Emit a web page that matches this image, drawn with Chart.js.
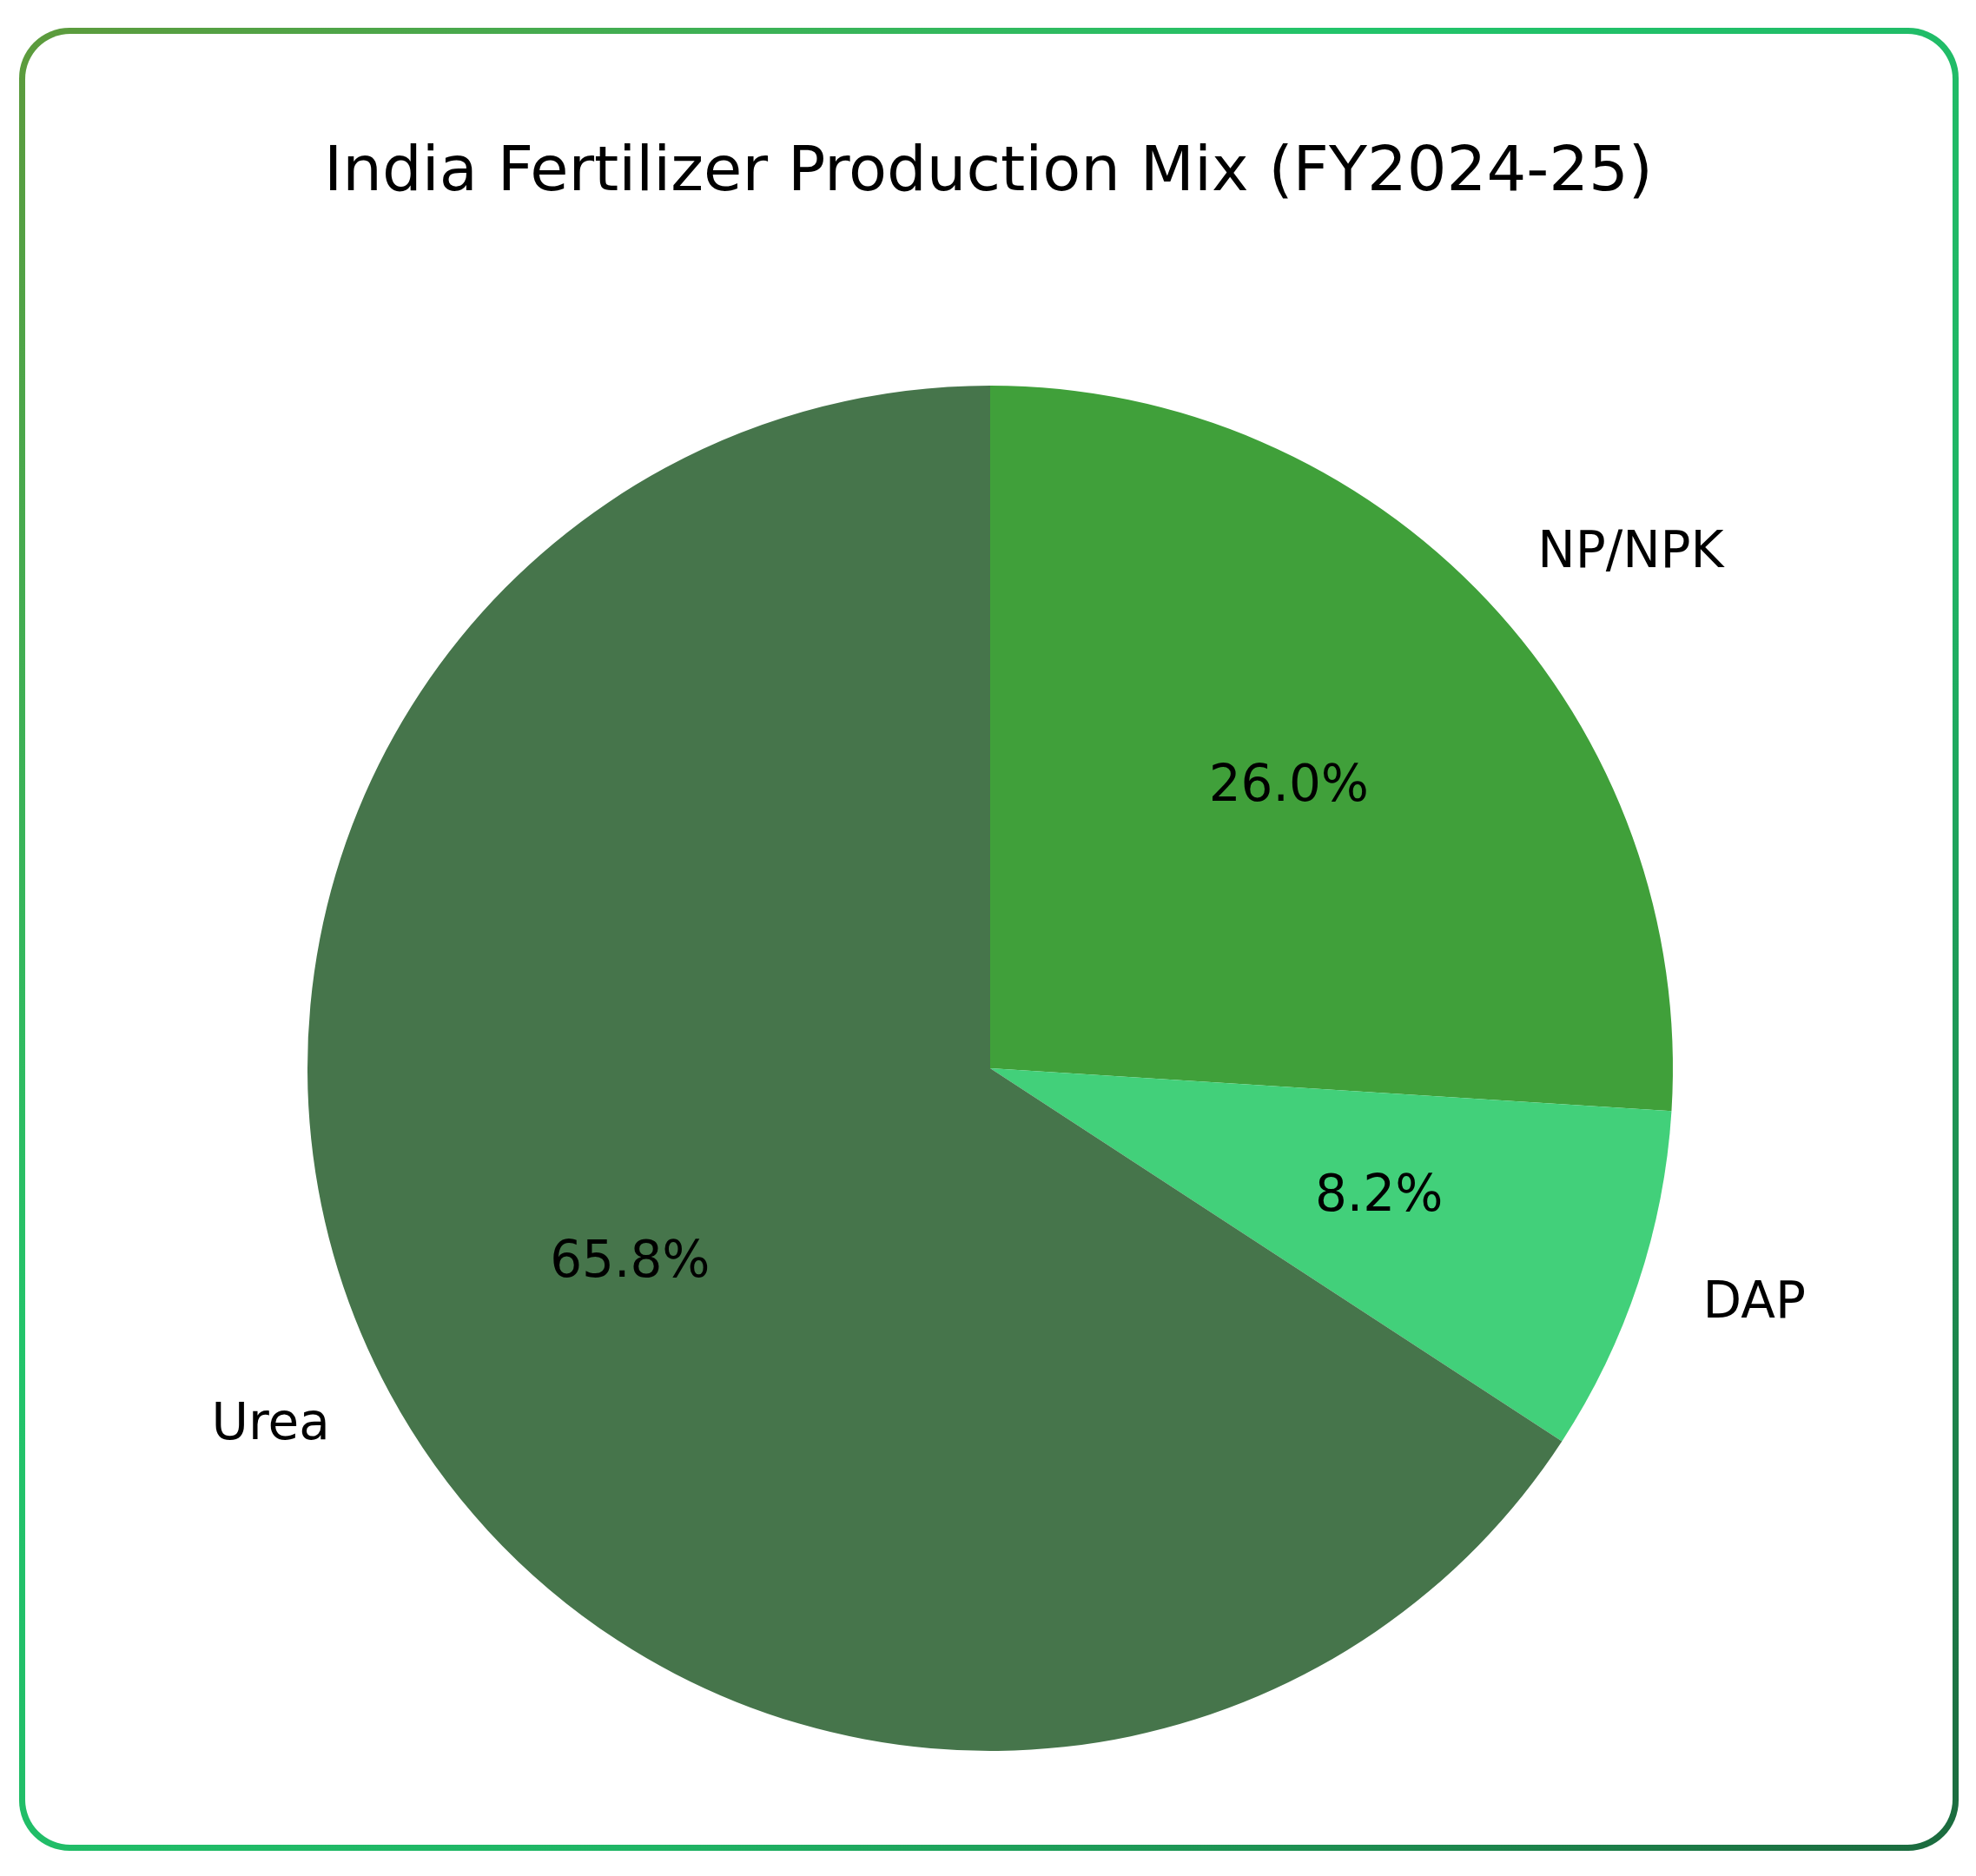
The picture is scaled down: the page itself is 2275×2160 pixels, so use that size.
<!DOCTYPE html>
<html><head><meta charset="utf-8">
<script src="https://cdn.jsdelivr.net/npm/chart.js@4"></script>
<style>
html,body{margin:0;padding:0;background:#fff;width:2275px;height:2160px;overflow:hidden}
#frame{position:absolute;left:22px;top:32px;width:2233px;height:2099px;border-radius:58px;
background:linear-gradient(135deg,#5d9a3c 0%,#22c46a 35%,#1fb565 65%,#1b6a3e 100%);}
#inner{position:absolute;left:7px;top:7px;right:7px;bottom:7px;border-radius:52px;background:#fff}
#wrap{position:absolute;left:0;top:0;width:2275px;height:2160px}
</style></head><body>
<div id="frame"><div id="inner"></div></div>
<div id="wrap"><canvas id="c"></canvas></div>
<script>
const titleText = "India Fertilizer Production Mix (FY2024-25)";
const categories = ["NP/NPK","DAP","Urea"];
const values = [26.0, 8.2, 65.8];
const colors = ["#40a03a","#42d07a","#46754b"];

const labelPlugin = {
  id:'labels',
  afterDraw(chart){
    const ctx = chart.ctx;
    ctx.save();
    ctx.fillStyle = '#000';
    ctx.font = '72px "DejaVu Sans"';
    ctx.textAlign='center'; ctx.textBaseline='middle';
    ctx.fillText(titleText, 1138, 200);
    const meta = chart.getDatasetMeta(0);
    const total = values.reduce((a,b)=>a+b,0);
    meta.data.forEach((arc,i)=>{
      const p = arc.getProps(['x','y','startAngle','endAngle','outerRadius'],true);
      const mid = (p.startAngle+p.endAngle)/2;
      const r = p.outerRadius;
      ctx.font = '58px "DejaVu Sans"';
      ctx.textAlign='center';
      ctx.fillText((values[i]/total*100).toFixed(1)+'%', p.x+Math.cos(mid)*r*0.6, p.y+Math.sin(mid)*r*0.6);
      const lx = p.x+Math.cos(mid)*r*1.1, ly = p.y+Math.sin(mid)*r*1.1;
      ctx.textAlign = Math.cos(mid) >= 0 ? 'left' : 'right';
      ctx.fillText(categories[i], lx, ly);
    });
    ctx.restore();
  }
};

new Chart(document.getElementById('c'),{
  type:'pie',
  data:{labels:categories,datasets:[{data:values,backgroundColor:colors,borderWidth:0}]},
  options:{
    responsive:true,maintainAspectRatio:false,animation:false,
    layout:{padding:{top:444,bottom:144,left:354,right:349}},
    plugins:{legend:{display:false},tooltip:{enabled:false},title:{display:false}}
  },
  plugins:[labelPlugin]
});
</script>
</body></html>
